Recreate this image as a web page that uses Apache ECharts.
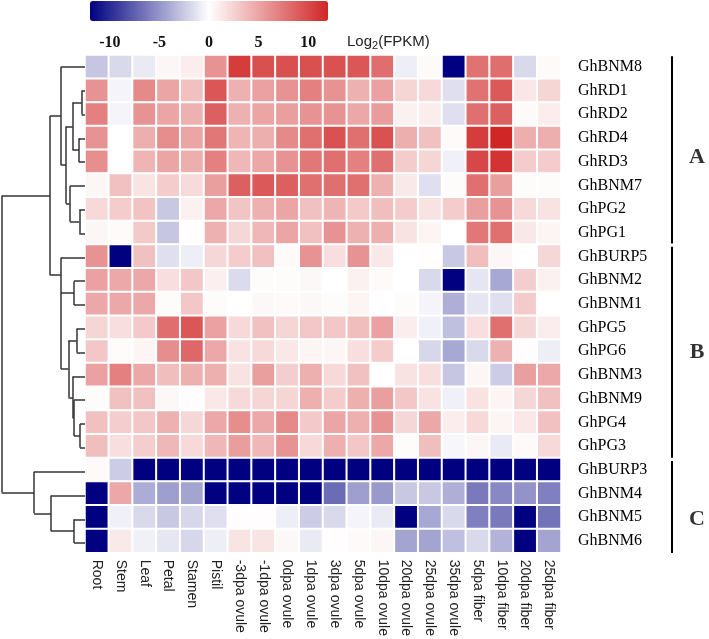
<!DOCTYPE html>
<html><head><meta charset="utf-8">
<script src="https://cdn.jsdelivr.net/npm/echarts@6/dist/echarts.min.js"></script>
<style>html,body{margin:0;padding:0;background:#fff}#c{width:709px;height:639px}</style>
</head><body><div id="c"></div>
<script>
const tissues = ['Root','Stem','Leaf','Petal','Stamen','Pistil','-3dpa ovule','-1dpa ovule','0dpa ovule','1dpa ovule','3dpa ovule','5dpa ovule','10dpa ovule','20dpa ovule','25dpa ovule','35dpa ovule','5dpa fiber','10dpa fiber','20dpa fiber','25dpa fiber'];
const genes = ['GhBNM8','GhRD1','GhRD2','GhRD4','GhRD3','GhBNM7','GhPG2','GhPG1','GhBURP5','GhBNM2','GhBNM1','GhPG5','GhPG6','GhBNM3','GhBNM9','GhPG4','GhPG3','GhBURP3','GhBNM4','GhBNM5','GhBNM6'];
// log2(FPKM) per gene (rows) x tissue (columns)
const log2fpkm = [
 [-2.7,-1.8,-1.0,0.5,1.0,6,10.8,9.7,9.7,9.7,9.6,9.3,8,-0.8,0.3,-12,7.8,8,-1.8,0.3],
 [6,-0.5,6.5,5,3.5,9.3,4.3,5.2,6,7,6,4.3,5.2,2.3,2.1,-1.5,7.8,9.2,1.4,2.3],
 [7,-0.5,6,5,4.3,8.8,4.3,5,5.3,6,6,4.8,5.5,0.8,1.0,-1.5,7.9,8.8,0.3,1.0],
 [6,0,4.5,6.3,5,7.5,4.1,4.5,6.5,7.9,9.6,7.9,9.6,4.5,3.5,0.3,10.8,12,4.5,4.5],
 [6.2,0,4.1,5,4.5,7,4,4.8,6,7.5,7.9,7,7.9,2.8,2.3,-0.7,10.2,11.3,2.8,2.8],
 [0.5,3.5,1.5,2.8,2,5.3,8.8,9.2,8.8,7.9,7.9,7.9,4.3,1.2,-1.5,0.2,7.9,5.3,0.2,0.2],
 [2.1,2.8,3.3,-2.6,0.8,4.8,3.2,4.3,5,3.5,4.1,3,3.6,2.8,1.6,2.8,5.3,6,2.1,1.6],
 [0.5,0.3,3,-2.7,0.1,4.3,2.2,4,5,3.5,6,4.3,4.4,1.6,0.6,0,7.5,7.9,1.3,0.6],
 [6,-12,3.5,-1.5,-0.8,2.2,2.8,3.5,0.3,6,1.8,6,1.3,0,0.1,-2.6,3.6,0.5,0,2.2],
 [5.2,4.8,4.8,1.8,3.1,0.9,-1.7,0.2,0.2,0.4,0,0.8,0.3,0,-1.8,-12,-1.2,-4.1,2.7,0.8],
 [4.8,4.8,4.8,0.2,3.1,0.2,0,0.4,0.3,0.4,0.2,0.6,0,0.2,-0.5,-3.8,-1.2,-1.5,2.9,0],
 [2.3,1.8,3,8,9.3,5.2,2.1,3.5,2.3,3.1,3.1,3.6,5.2,1,-0.7,-3,1.8,7.9,2.2,1],
 [3.1,0.2,0.6,6.3,8.4,4.8,1.6,2.1,1.3,0.6,0.5,1.8,2.8,0,-1.9,-4.1,-1.8,4.3,0.1,-0.8],
 [5.2,7,4.8,3.6,4.4,4.4,1.6,5.3,2.7,4.4,2.1,3.5,0,1.6,1.8,-2.7,0.5,-2.4,5.3,4.8],
 [0.2,3.5,3.5,0.4,0.1,1.3,2.1,2.3,2.3,4.4,2.8,4.4,5.3,3.1,1.6,-0.7,1.6,0.6,2.2,3.5],
 [3.5,2.7,3.1,4.3,2.2,4.8,6.3,4.8,6.5,3,5,4.4,6,2.2,4.8,1.0,2.1,0.6,1.3,3.5],
 [3.6,1.8,2.7,4,2.1,4,5.4,4,6,2.1,4.4,3.1,4.8,0.2,3.6,-0.4,0.5,-1.0,0.3,2.1],
 [0.3,-2.4,-12,-12,-12,-12,-12,-12,-12,-12,-12,-12,-12,-12,-12,-12,-12,-12,-12,-12],
 [-12,4.8,-3.9,-4.5,-4.3,-12,-12,-12,-12,-12,-6.9,-4.5,-4.8,-2.6,-2.6,-3.8,-6.3,-5.6,-5.1,-6.0],
 [-12,-0.7,-1.8,-2.6,-1.9,-1.5,0.1,0.1,-0.8,-2.4,-1.8,-0.5,-1.0,-12,-4.1,-1.8,-6,-6.3,-12,-6.6],
 [-12,1.2,-0.7,-1.2,-1.9,-0.8,1.5,1.5,0.4,-1.0,0.1,0.3,0.5,-4.3,-4.3,-3.0,-1.8,-3.6,-12,-4.3]
];
const colorMin = -12, colorMax = 12;
const colorbarTicks = [-10, -5, 0, 5, 10];
const groupNames = ['A', 'B', 'C'];
const groupFirstRow = [0, 8, 17];
const groupLastRow = [7, 16, 20];
const groupLabelRow = [3.8, 12, 19];
// dendrogram merges: numeric children = gene row index, strings = earlier node ids; h = merge height
const dendroNodes = [
 {id:'n1', children:[1,2], h:3.3},
 {id:'n2', children:[3,4], h:6},
 {id:'n3', children:['n1','n2'], h:12.3},
 {id:'n4', children:[6,7], h:5.7},
 {id:'n5', children:[5,'n4'], h:15},
 {id:'n6', children:['n3','n5'], h:19},
 {id:'A', children:[0,'n6'], h:24.3},
 {id:'n8', children:[9,10], h:11},
 {id:'n10', children:[11,12], h:8.3},
 {id:'n11', children:[15,16], h:5},
 {id:'n12', children:[14,'n11'], h:11},
 {id:'n13', children:[13,'n12'], h:12.3},
 {id:'n14', children:['n10','n13'], h:16.7},
 {id:'B', children:[8,'n8','n14'], h:24},
 {id:'AB', children:['A','B'], h:35},
 {id:'n16', children:[19,20], h:11},
 {id:'n17', children:[18,'n16'], h:34},
 {id:'C', children:[17,'n17'], h:51},
 {id:'root', children:['AB','C'], h:83.3}
];

// build dendrogram segments in (height, row) data units
const pos = {};
const segs = [];
dendroNodes.forEach(n => {
  const ch = n.children.map(c => typeof c === 'number' ? {y:c, h:0} : pos[c]);
  ch.forEach(c => segs.push({coords: [[c.h, c.y], [n.h, c.y]]}));
  const ys = ch.map(c => c.y);
  segs.push({coords: [[n.h, Math.min(...ys)], [n.h, Math.max(...ys)]]});
  pos[n.id] = {y: (ch[0].y + ch[1].y) / 2, h: n.h};
});

const heatData = [];
log2fpkm.forEach((row, r) => row.forEach((v, c) => heatData.push([c, r, v])));

const groupSegs = groupNames.map((g, i) => ({coords: [[72, groupFirstRow[i] - 0.45], [72, groupLastRow[i] + 0.42]]}));
const groupLabels = groupNames.map((g, i) => ({value: [97, groupLabelRow[i]], name: g}));

const chart = echarts.init(document.getElementById('c'), null, {renderer: 'canvas'});
chart.setOption({
  animation: false,
  backgroundColor: '#fff',
  grid: [
    {left: 85, top: 55, width: 476, height: 500},
    {left: 90, top: 20, width: 238, height: 1},
    {left: 0, top: 55, width: 85, height: 500},
    {left: 600, top: 55, width: 109, height: 500}
  ],
  xAxis: [
    {gridIndex: 0, type: 'category', data: tissues, position: 'bottom',
     axisLine: {show: false}, axisTick: {show: false}, splitArea: {show: false},
     axisLabel: {rotate: -90, margin: 7, interval: 0, fontFamily: 'Liberation Sans', fontSize: 14, color: '#222'}},
    {gridIndex: 1, type: 'value', min: colorMin, max: colorMax,
     axisLine: {show: false}, axisTick: {show: false}, splitLine: {show: false},
     axisLabel: {customValues: colorbarTicks, margin: 14, fontFamily: 'Liberation Serif', fontWeight: 'bold', fontSize: 16, color: '#111'}},
    {gridIndex: 2, type: 'value', min: 0, max: 85, inverse: true, show: false},
    {gridIndex: 3, type: 'value', min: 0, max: 109, show: false}
  ],
  yAxis: [
    {gridIndex: 0, type: 'category', data: genes, inverse: true, position: 'right',
     axisLine: {show: false}, axisTick: {show: false}, splitArea: {show: false},
     axisLabel: {margin: 17, interval: 0, fontFamily: 'Liberation Serif', fontSize: 16, color: '#000'}},
    {gridIndex: 1, type: 'value', show: false},
    {gridIndex: 2, type: 'value', min: -0.5, max: 20.5, inverse: true, show: false},
    {gridIndex: 3, type: 'value', min: -0.5, max: 20.5, inverse: true, show: false}
  ],
  visualMap: {
    type: 'continuous', min: colorMin, max: colorMax, seriesIndex: 0,
    orient: 'horizontal', left: 90, top: 1, itemWidth: 20, itemHeight: 238,
    padding: 0, text: null, calculable: false, hoverLink: false, realtime: false,
    inRange: {color: ['#000080', '#ffffff', '#d02626']}
  },
  graphic: [{
    type: 'text', left: 347, top: 34,
    style: {text: '{a|Log}{b|2}{a|(FPKM)}', rich: {
      a: {fontFamily: 'Liberation Sans', fontSize: 15, fill: '#222'},
      b: {fontFamily: 'Liberation Sans', fontSize: 11, fill: '#222', padding: [8, 0, 0, 0]}
    }}
  }],
  series: [
    {type: 'heatmap', xAxisIndex: 0, yAxisIndex: 0, data: heatData,
     itemStyle: {borderColor: '#fff', borderWidth: 2}, emphasis: {disabled: true}, silent: true},
    {type: 'lines', coordinateSystem: 'cartesian2d', xAxisIndex: 2, yAxisIndex: 2, data: segs,
     lineStyle: {color: '#333', width: 1.5, opacity: 1}, silent: true},
    {type: 'lines', coordinateSystem: 'cartesian2d', xAxisIndex: 3, yAxisIndex: 3, data: groupSegs,
     lineStyle: {color: '#000', width: 2, opacity: 1}, silent: true},
    {type: 'scatter', xAxisIndex: 3, yAxisIndex: 3, data: groupLabels, symbolSize: 1,
     itemStyle: {color: 'rgba(0,0,0,0)'}, silent: true,
     label: {show: true, position: 'inside', formatter: p => p.name,
       fontFamily: 'Liberation Serif', fontWeight: 'bold', fontSize: 22, color: '#000'}}
  ]
});
</script></body></html>
